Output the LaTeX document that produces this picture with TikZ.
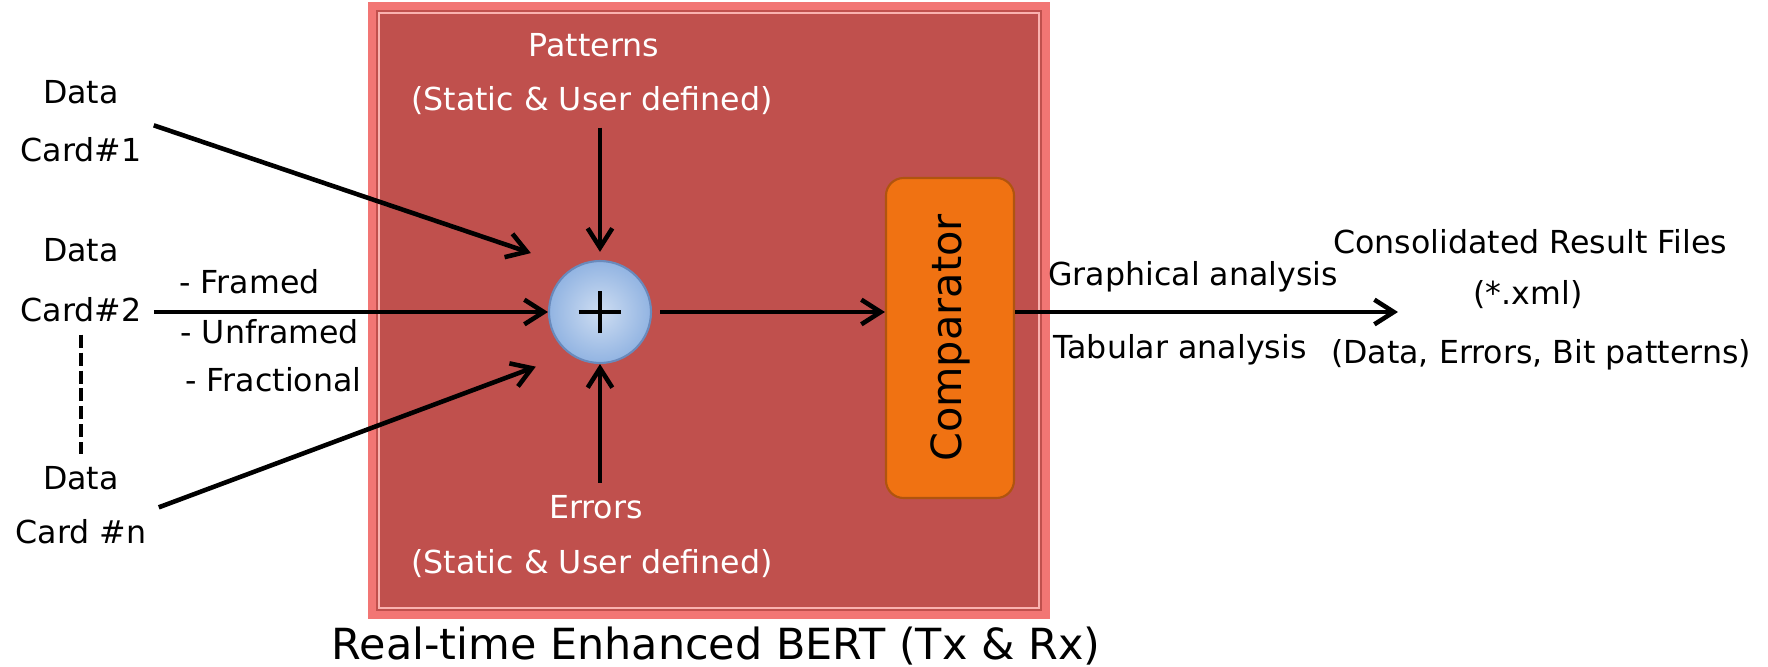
\documentclass[tikz,border=0pt]{standalone}
\usepackage{fontspec}
\setmainfont{DejaVu Sans}
\usetikzlibrary{arrows.meta}
\definecolor{bertred}{RGB}{192,80,77}
\definecolor{bertedge}{RGB}{242,118,116}
\definecolor{bertglow}{RGB}{250,178,175}
\definecolor{addblue}{RGB}{146,180,226}
\definecolor{addedge}{RGB}{105,138,188}
\definecolor{cmporange}{RGB}{240,114,18}
\definecolor{cmpedge}{RGB}{176,84,14}

\begin{document}
\begin{tikzpicture}[x=0.01cm,y=-0.01cm,
        lbl/.style={font=\fontsize{9}{11}\selectfont},
        wlbl/.style={lbl,text=white},
        arr/.style={line width=1.3pt,-{Straight Barb[length=5.5pt,width=7pt]}},
        adder/.style={circle,minimum size=29pt,inner sep=0pt,draw=addedge,line width=0.6pt,
            inner color=addblue!45!white,outer color=addblue},
        cmpbox/.style={draw=cmpedge,line width=0.6pt,fill=cmporange,rounded corners=5pt,
            minimum width=36.4pt,minimum height=91pt,inner sep=0pt}]
        \useasboundingbox (0,0) rectangle (1768,666);

        % BERT box
        \draw[fill=bertred,draw=bertedge,line width=2pt] (372,6) rectangle (1046,615);
        \draw[bertglow,line width=0.6pt] (379,13) rectangle (1039,608);
        \node[font=\fontsize{12.2}{14}\selectfont] (title) at (716,646) {Real-time Enhanced BERT (Tx \& Rx)};

        % Data cards
        \node[lbl] (data1) at (81,92) {Data};
        \node[lbl] (card1) at (81,150) {Card\#1};
        \node[lbl] (data2) at (81,250) {Data};
        \node[lbl] (card2) at (81,310) {Card\#2};
        \node[lbl] (datan) at (81,478) {Data};
        \node[lbl] (cardn) at (81,532) {Card \#n};
        \draw[line width=1.1pt,dash pattern=on 3.7pt off 1.4pt] (card2.south) -- (datan.north);

        \node[lbl,anchor=west] (framed) at (167,282) {- Framed};
        \node[lbl,anchor=west] (unframed) at (168,332) {- Unframed};
        \node[lbl,anchor=west] (fract) at (173,380) {- Fractional};

        % Adder
        \node[adder] (sum) at (600,312) {};
        \draw[line width=1pt] ([xshift=-6.1pt]sum.center) -- ([xshift=6.1pt]sum.center);
        \draw[line width=1pt] ([yshift=-6.1pt]sum.center) -- ([yshift=6.1pt]sum.center);

        \node[wlbl] (pat) at (594,45) {Patterns};
        \node[wlbl] (patsrc) at (592,101) {(Static \& User defined)};
        \node[wlbl] (err) at (596,507) {Errors};
        \node[wlbl] (errsrc) at (592,564) {(Static \& User defined)};

        % Comparator
        \node[cmpbox] (comp) at (950,338) {\rotatebox{90}{\fontsize{11.8}{14}\selectfont Comparator}};

        % Results
        \node[lbl,anchor=west] (graph) at (1036,277) {Graphical analysis};
        \node[lbl,anchor=west] (tab) at (1041,350) {Tabular analysis};
        \node[lbl] (cons) at (1530,242) {Consolidated Result Files};
        \node[lbl] (xml) at (1528,295) {(*.xml)};
        \node[lbl] (files) at (1541,355) {(Data, Errors, Bit patterns)};
        \coordinate (res) at (1398,312);

        % Arrows
        \draw[arr,shorten >=12.7pt] (card1.north east) -- (sum.121);
        \draw[arr] (sum.west -| card2.east) -- (sum.west);
        \draw[arr,shorten >=10.2pt] (cardn.north east) -- (sum.234);
        \draw[arr,shorten >=2.3pt] (sum |- patsrc.south) -- (sum.north);
        \draw[arr] (sum |- err.north) -- (sum.south);
        \draw[arr,shorten <=2.3pt] (sum.east) -- (sum -| comp.west);
        \draw[arr] (sum -| comp.east) -- (res);
\end{tikzpicture}
\end{document}
